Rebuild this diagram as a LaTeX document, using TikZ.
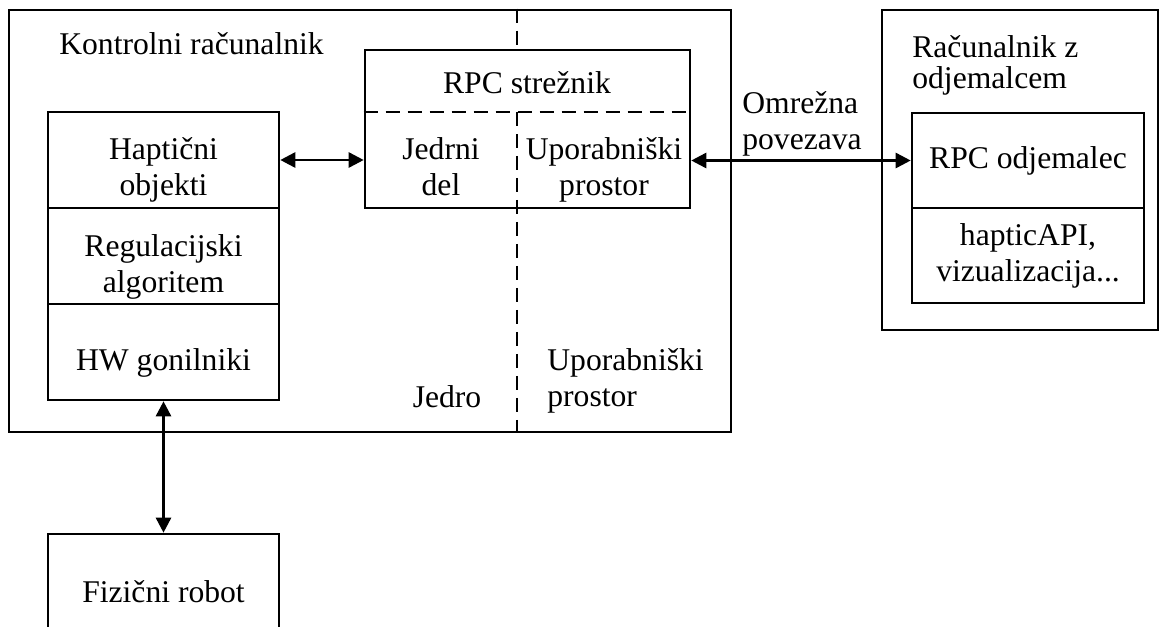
\documentclass[tikz,border=0pt]{standalone}
\usepackage{fontspec}
\setmainfont{Liberation Serif}
\usetikzlibrary{arrows.meta,positioning}

\begin{document}
\begin{tikzpicture}[
  x=0.02cm,y=-0.02cm,
  font=\fontsize{18}{20.5}\selectfont,
  frame/.style={draw,line width=1.5pt,inner sep=0pt},
  blok/.style={draw,line width=1.5pt,minimum width=4.62cm,minimum height=1.92cm},
  txt/.style={align=center,inner sep=0pt},
  locilo/.style={line width=1.2pt,dash pattern=on 0.28cm off 0.16cm},
  arrow/.style={{Triangle[length=0.3cm,width=0.3cm]}-{Triangle[length=0.3cm,width=0.3cm]},line width=1.5pt}
]
\useasboundingbox (0,0) rectangle (1167,626);
\clip (0,0) rectangle (1167,626);
% kontrolni racunalnik
\node[frame,minimum width=14.44cm,minimum height=8.44cm] (ctrl) at (370,221) {};
\node[txt,anchor=base west] (ctrlname) at (59,54) {Kontrolni računalnik};
\node[frame,minimum width=6.5cm,minimum height=3.16cm] (rpc) at (527.5,129) {};
\coordinate (deli) at (517,112);
\draw[locilo] (rpc.west |- deli) -- (rpc.east |- deli);
\draw[locilo] (ctrl.north -| deli) -- (rpc.north -| deli);
\draw[locilo] (deli) -- (deli |- ctrl.south);
\node[txt,anchor=base] (srv) at (527,93) {RPC strežnik};
\node[txt,anchor=north] (jedrni) at (441,137) {Jedrni\\del};
\node[txt,anchor=north] (upsrv) at (604,137) {Uporabniški\\prostor};
\node[blok] (hapt) at (163.5,160) {};
\node[blok] (reg) at (163.5,256) {};
\node[blok] (hw) at (163.5,352) {};
\node[txt,anchor=north] at (163.5,137) {Haptični\\objekti};
\node[txt,anchor=north] at (163.5,234) {Regulacijski\\algoritem};
\node[txt,anchor=base] at (163.5,370) {HW gonilniki};
\node[txt,anchor=base] (jedro) at (447,407) {Jedro};
\node[txt,anchor=north west,align=left] (upprost) at (547,348) {Uporabniški\\prostor};
% fizicni robot
\node[blok,minimum height=2.4cm] (robot) at (163.5,594) {};
\node[txt,anchor=base] at (163.5,602) {Fizični robot};
% racunalnik z odjemalcem
\node[frame,minimum width=5.52cm,minimum height=6.4cm] (pc) at (1020,170) {};
\node[txt,anchor=north west,align=left,font=\fontsize{18}{18}\selectfont] (pcname) at (912,35) {Računalnik z\\odjemalcem};
\node[draw,line width=1.5pt,minimum width=4.64cm,minimum height=1.9cm] (cli) at (1028,160.5) {RPC odjemalec};
\node[draw,line width=1.5pt,minimum width=4.64cm,minimum height=1.9cm,align=center] (api) at (1028,255.5) {hapticAPI,\\vizualizacija...};
\node[txt,anchor=north west,align=left] (mreza) at (742,91) {Omrežna\\povezava};
% povezave
\draw[arrow] (hapt.east) -- (hapt.east -| rpc.west);
\draw[arrow] (rpc.east |- cli.west) -- (cli.west);
\draw[arrow] (hw.south) -- (robot.north);
\end{tikzpicture}
\end{document}
